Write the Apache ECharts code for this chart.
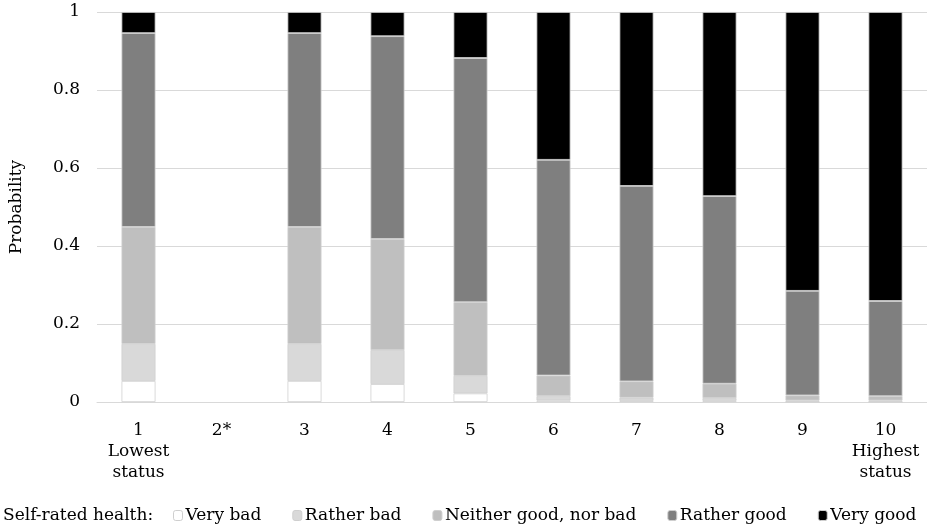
<!DOCTYPE html>
<html><head><meta charset="utf-8">
<script src="https://cdn.jsdelivr.net/npm/echarts@6/dist/echarts.min.js"></script>
<style>html,body{margin:0;padding:0;background:#fff}#c{width:927px;height:528px}</style>
</head><body><div id="c"></div>
<script>
const categories = ['1\nLowest\nstatus', '2*', '3', '4', '5', '6', '7', '8', '9', '10\nHighest\nstatus'];
const yTicks = [0, 0.2, 0.4, 0.6, 0.8, 1];
const veryBad      = [0.054, null, 0.054, 0.046, 0.022, 0.004, 0.003, 0.003, 0.001, 0.001];
const ratherBad    = [0.095, null, 0.095, 0.087, 0.045, 0.011, 0.008, 0.007, 0.003, 0.003];
const neither      = [0.300, null, 0.300, 0.285, 0.189, 0.053, 0.042, 0.037, 0.013, 0.011];
const ratherGood   = [0.497, null, 0.497, 0.520, 0.626, 0.553, 0.501, 0.481, 0.268, 0.244];
const veryGood     = [0.054, null, 0.054, 0.062, 0.118, 0.379, 0.446, 0.472, 0.715, 0.741];

const FONT = 'DejaVu Serif';
const FS = 17;
const seriesDefs = [
  ['Very bad', veryBad, '#ffffff'],
  ['Rather bad', ratherBad, '#d9d9d9'],
  ['Neither good, nor bad', neither, '#bfbfbf'],
  ['Rather good', ratherGood, '#7f7f7f'],
  ['Very good', veryGood, '#000000']
];
const chart = echarts.init(document.getElementById('c'), null, {renderer: 'canvas'});
chart.setOption({
  animation: false,
  backgroundColor: '#fff',
  textStyle: {fontFamily: FONT},
  grid: {left: 97, right: 0, top: 12, bottom: 126, containLabel: false},
  legend: {
    left: 168, top: 502, itemWidth: 9, itemHeight: 10, itemGap: 31,
    textStyle: {fontFamily: FONT, fontSize: FS, color: '#000', padding: [0,0,0,-2]},
    data: seriesDefs.map(d => ({name: d[0], itemStyle: {borderColor: '#cfcfcf', borderWidth: 1}}))
  },
  graphic: [{
    type: 'text', left: 3, top: 507,
    style: {text: 'Self-rated health:', font: FS + 'px "DejaVu Serif"', fill: '#000'}
  }],
  xAxis: {
    type: 'category', data: categories,
    axisLine: {lineStyle: {color: '#d9d9d9'}},
    axisTick: {show: false},
    axisLabel: {interval: 0, fontFamily: FONT, fontSize: FS, color: '#000', lineHeight: 21, margin: 18}
  },
  yAxis: {
    type: 'value', min: 0, max: 1, interval: 0.2,
    name: 'Probability', nameLocation: 'middle', nameGap: 72,
    nameTextStyle: {fontFamily: FONT, fontSize: FS, color: '#000'},
    axisLine: {show: false}, axisTick: {show: false},
    axisLabel: {fontFamily: FONT, fontSize: FS, color: '#000', margin: 17,
      formatter: v => { const t = yTicks.find(x => Math.abs(x - v) < 1e-9); return String(t !== undefined ? t : v); }},
    splitLine: {lineStyle: {color: '#d9d9d9'}}
  },
  series: seriesDefs.map(d => ({
    name: d[0], type: 'bar', stack: 'total', data: d[1], barWidth: 34,
    itemStyle: {color: d[2], borderColor: '#d0d0d0', borderWidth: 0.8}
  }))
});
</script></body></html>
